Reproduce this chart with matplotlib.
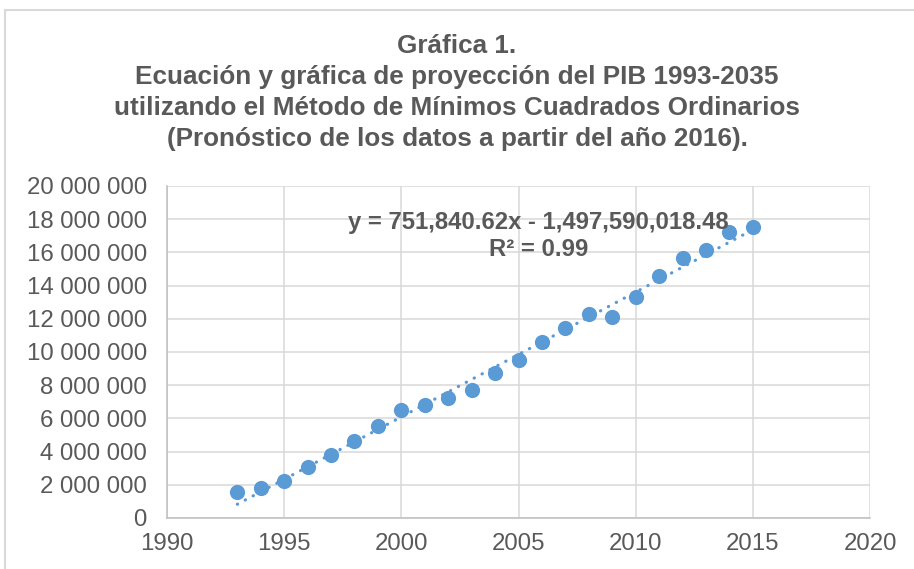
import numpy as np
import matplotlib
matplotlib.use("Agg")
import matplotlib.pyplot as plt
from matplotlib.patches import Rectangle
from matplotlib.ticker import FuncFormatter, MultipleLocator

plt.rcParams['font.family'] = ['Liberation Sans', 'DejaVu Sans']

# PIB observado, 1993-2015
years = [1993, 1994, 1995, 1996, 1997, 1998, 1999, 2000, 2001, 2002, 2003, 2004,
         2005, 2006, 2007, 2008, 2009, 2010, 2011, 2012, 2013, 2014, 2015]
pib = [1570000, 1810000, 2230000, 3060000, 3800000, 4640000, 5560000, 6520000,
       6810000, 7230000, 7710000, 8720000, 9500000, 10620000, 11460000, 12290000,
       12110000, 13310000, 14580000, 15640000, 16140000, 17210000, 17530000]

# linea de tendencia (MCO)
slope = 751840.62
intercept = -1497590018.48
eq_text = "y = 751,840.62x - 1,497,590,018.48"
r2_text = "R² = 0.99"

title = ("Gráfica 1.\n"
         "Ecuación y gráfica de proyección del PIB 1993-2035\n"
         "utilizando el Método de Mínimos Cuadrados Ordinarios\n"
         "(Pronóstico de los datos a partir del año 2016).")

blue = '#5B9BD5'
txt = '#595959'
grid = '#d9d9d9'

W, H = 914, 569
fig = plt.figure(figsize=(W / 100, H / 100), dpi=100)
ax = fig.add_axes([167 / W, 1 - 518 / H, (870 - 167) / W, (518 - 186) / H])

# chart border (cut off at right/bottom like the reference)
fig.add_artist(Rectangle((5 / W, -0.1), 2, 1 - 10 / H + 0.1,
                         transform=fig.transFigure, fill=False,
                         ec=grid, lw=1.5))

x = np.array(years, float)
trend = slope * x + intercept
ax.plot(x, trend, color=blue, lw=2.3, linestyle=(0, (0.1, 2.7)),
        dash_capstyle='round', zorder=2)
ax.scatter(years, pib, s=120, color=blue, zorder=3, linewidths=0)

ax.set_xlim(1990, 2020)
ax.set_ylim(0, 20000000)
ax.xaxis.set_major_locator(MultipleLocator(5))
ax.yaxis.set_major_locator(MultipleLocator(2000000))
ax.yaxis.set_major_formatter(
    FuncFormatter(lambda v, p: f"{int(round(v)):,}".replace(",", " ")))

ax.grid(True, color=grid, lw=1.1, zorder=0)
ax.set_axisbelow(True)
for s in ('top', 'right'):
    ax.spines[s].set_visible(False)
for s in ('left', 'bottom'):
    ax.spines[s].set_color('#bfbfbf')
    ax.spines[s].set_linewidth(1.1)
ax.tick_params(axis='both', length=0, labelsize=17.3, colors=txt)
ax.tick_params(axis='y', pad=14.5)
ax.tick_params(axis='x', pad=11)

ax.text(2005.85, 17800000, eq_text, ha='center', va='center', fontsize=17.2,
        fontweight='bold', color=txt, zorder=4)
ax.text(2005.85, 16200000, r2_text, ha='center', va='center', fontsize=17.2,
        fontweight='bold', color=txt, zorder=4)

fig.text(0.5, 1 - 92.5 / H, title, ha='center', va='center', fontsize=18.8,
         fontweight='bold', color=txt, linespacing=1.36)

fig.savefig('out.png', dpi=100)
